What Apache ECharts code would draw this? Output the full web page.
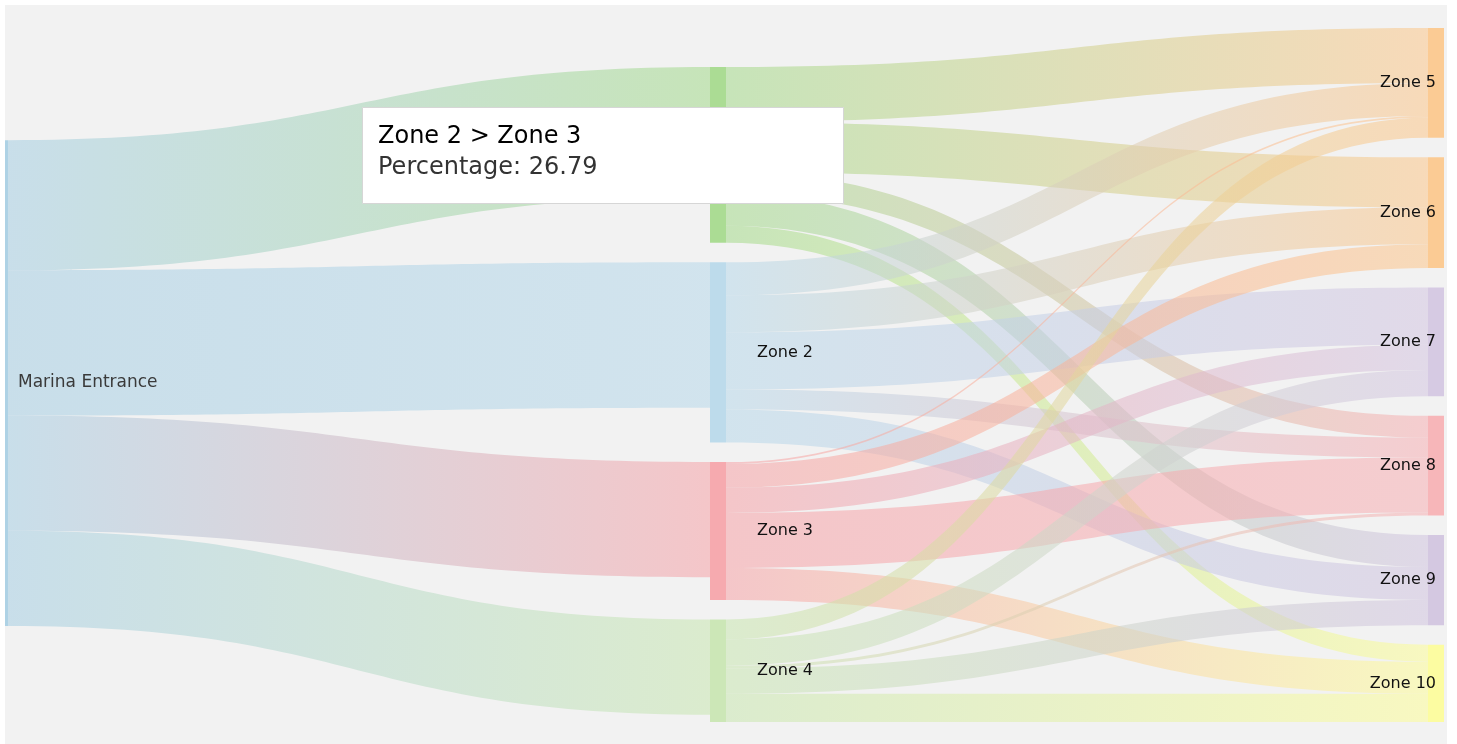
<!DOCTYPE html>
<html><head><meta charset="utf-8">
<script src="https://cdn.jsdelivr.net/npm/echarts@6/dist/echarts.min.js"></script>
<style>
html,body{margin:0;padding:0;background:#ffffff;width:1457px;height:744px;overflow:hidden}
#c{position:absolute;left:5px;top:5px;width:1442px;height:739px}
</style></head>
<body><div id="c"></div>
<script>
// ---- data ----
const sourceNode = 'Marina Entrance';
const middleZones = ['Zone 1', 'Zone 2', 'Zone 3', 'Zone 4'];
const rightZones = ['Zone 5', 'Zone 6', 'Zone 7', 'Zone 8', 'Zone 9', 'Zone 10'];
// Marina Entrance -> Zone 1..4
const entranceShares = [26.79, 29.91, 23.71, 19.59];
// each middle zone -> Zone 5..10 (0 = no flow)
const zone1Flows = [11.3, 10.3, 0, 4.5, 6.6, 3.5];
const zone2Flows = [6.8, 7.6, 11.8, 4.1, 6.8, 0];
const zone3Flows = [0.4, 4.9, 5.2, 11.3, 0, 6.6];
const zone4Flows = [4.1, 0, 5.4, 0.6, 5.2, 5.8];
const tooltipTitle = 'Zone 2 > Zone 3';
const tooltipLabel = 'Percentage: 26.79';

// ---- styles ----
const nodeColors = {
  'Marina Entrance': '#a6cee3',
  'Zone 1': '#a3d98a', 'Zone 2': '#b7d8ea', 'Zone 3': '#f6a2a7', 'Zone 4': '#c8e6b0',
  'Zone 5': '#fcc68a', 'Zone 6': '#fcc68a', 'Zone 7': '#d3c5e1', 'Zone 8': '#f7afb3',
  'Zone 9': '#d0c3df', 'Zone 10': '#fdfd98'
};
const FONT = '"DejaVu Sans", Verdana, sans-serif';

const allNames = [sourceNode].concat(middleZones, rightZones);
const nodes = allNames.map(n => ({ name: n, itemStyle: { color: nodeColors[n] } }));
const links = [];
entranceShares.forEach((v, i) => links.push({ source: sourceNode, target: middleZones[i], value: v }));
[zone1Flows, zone2Flows, zone3Flows, zone4Flows].forEach((row, i) => {
  row.forEach((v, j) => { if (v > 0) links.push({ source: middleZones[i], target: rightZones[j], value: v }); });
});

const chart = echarts.init(document.getElementById('c'));
chart.setOption({
  backgroundColor: '#f2f2f2',
  animation: false,
  series: [{
    type: 'sankey',
    left: -13, right: 3, top: 23, bottom: 22,
    nodeWidth: 16,
    nodeGap: 19.5,
    layoutIterations: 32,
    draggable: false,
    emphasis: { disabled: true },
    data: nodes,
    links: links,
    itemStyle: { borderWidth: 0, opacity: 0.9 },
    lineStyle: { color: 'gradient', opacity: 0.55, curveness: 0.5 },
    label: { fontFamily: FONT, fontSize: 16, color: '#111' },
    levels: [
      { depth: 0, label: { position: 'right', distance: 10, fontSize: 17, color: '#3a3a3a' } },
      { depth: 1, label: { position: 'right', distance: 31 } },
      { depth: 2, label: { position: ['50%', '50%'], align: 'right', verticalAlign: 'middle' } }
    ]
  }],
  graphic: [
    { type: 'rect', z: 100, zlevel: 1, left: 357, top: 102, shape: { width: 481, height: 96 },
      style: { fill: '#ffffff', stroke: '#d6d6d6', lineWidth: 1 } },
    { type: 'text', z: 101, zlevel: 1, x: 373, y: 132,
      style: { text: tooltipTitle, font: '24px ' + FONT, fill: '#000', textVerticalAlign: 'middle' } },
    { type: 'text', z: 101, zlevel: 1, x: 373, y: 163,
      style: { text: tooltipLabel, font: '24px ' + FONT, fill: '#333', textVerticalAlign: 'middle' } }
  ]
});
</script>
</body></html>
